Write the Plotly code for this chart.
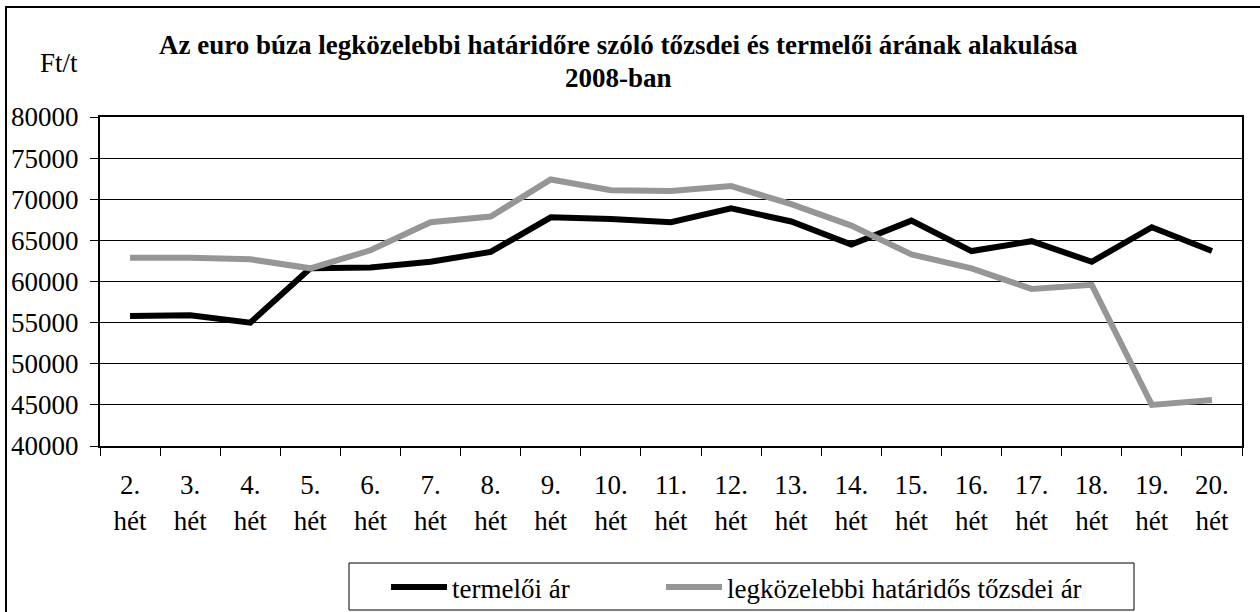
import plotly.graph_objects as go

weeks = ["2.", "3.", "4.", "5.", "6.", "7.", "8.", "9.", "10.", "11.", "12.",
         "13.", "14.", "15.", "16.", "17.", "18.", "19.", "20."]
tick_labels = [w + "<br>hét" for w in weeks]

termeloi_ar = [55800, 55900, 55000, 61600, 61700, 62400, 63600, 67800, 67600,
               67200, 68900, 67300, 64500, 67400, 63700, 64900, 62400, 66600, 63700]
tozsdei_ar = [62900, 62900, 62700, 61600, 63800, 67200, 67900, 72400, 71100,
              71000, 71600, 69400, 66800, 63300, 61600, 59100, 59600, 45000, 45600]

FONT = "Liberation Serif, Times New Roman, serif"

L, R, T, B = 100, 18, 117, 166
W, H = 1260, 612
pw, ph = W - L - R, H - T - B


def px(x):
    return (x - L) / pw


def py(y):
    return (H - B - y) / ph


fig = go.Figure()
fig.add_trace(go.Scatter(x=tick_labels, y=termeloi_ar, mode="lines",
                         name="termelői ár", legend="legend",
                         line=dict(color="#000000", width=6)))
fig.add_trace(go.Scatter(x=tick_labels, y=tozsdei_ar, mode="lines",
                         name="legközelebbi határidős tőzsdei ár", legend="legend2",
                         line=dict(color="#969696", width=6)))

legend_common = dict(
    orientation="h", yanchor="top", xanchor="left",
    bgcolor="rgba(0,0,0,0)", borderwidth=0,
    font=dict(family=FONT, size=27, color="black"),
    itemwidth=56,
)

fig.update_layout(
    width=W, height=H,
    margin=dict(l=L, r=R, t=T, b=B, autoexpand=False),
    paper_bgcolor="white", plot_bgcolor="white",
    font=dict(family=FONT, size=27, color="black"),
    showlegend=True,
    legend=dict(x=px(386), y=py(563), **legend_common),
    legend2=dict(x=px(661), y=py(563), **legend_common),
    xaxis=dict(
        type="category",
        range=[-0.5, len(weeks) - 0.5],
        showgrid=False,
        showline=True, linecolor="black", linewidth=2, mirror=True,
        ticks="outside", ticklen=8, tickcolor="black", tickwidth=1,
        tickson="boundaries",
        ticklabelstandoff=14,
        tickfont=dict(family=FONT, size=27, color="black"),
    ),
    yaxis=dict(
        range=[40000, 80000], dtick=5000, tick0=40000,
        showgrid=True, gridcolor="black", gridwidth=1,
        showline=True, linecolor="black", linewidth=2, mirror=True,
        ticks="outside", ticklen=8, tickcolor="black", tickwidth=1,
        ticklabelstandoff=6,
        tickformat="d",
        zeroline=False,
        tickfont=dict(family=FONT, size=27, color="black"),
    ),
    annotations=[
        dict(text="<b>Az euro búza legközelebbi határidőre szóló tőzsdei és termelői árának alakulása</b>",
             x=px(618), y=py(45), xref="paper", yref="paper",
             xanchor="center", yanchor="middle", showarrow=False,
             font=dict(family=FONT, size=27, color="black")),
        dict(text="<b>2008-ban</b>",
             x=px(618), y=py(78), xref="paper", yref="paper",
             xanchor="center", yanchor="middle", showarrow=False,
             font=dict(family=FONT, size=27, color="black")),
        dict(text="Ft/t",
             x=px(59), y=py(63), xref="paper", yref="paper",
             xanchor="center", yanchor="middle", showarrow=False,
             font=dict(family=FONT, size=27, color="black")),
    ],
    shapes=[
        dict(type="rect", xref="paper", yref="paper",
             x0=px(6), y0=py(700), x1=px(1300), y1=py(7),
             line=dict(color="black", width=2), fillcolor="rgba(0,0,0,0)",
             layer="below"),
        dict(type="rect", xref="paper", yref="paper",
             x0=px(349), y0=py(610), x1=px(1134), y1=py(563),
             line=dict(color="black", width=1), fillcolor="rgba(0,0,0,0)",
             layer="above"),
    ],
)

fig.write_html(
    "out.html",
    config={"displayModeBar": False},
    post_script="document.body.style.margin='0px';document.body.style.overflow='hidden';",
)
